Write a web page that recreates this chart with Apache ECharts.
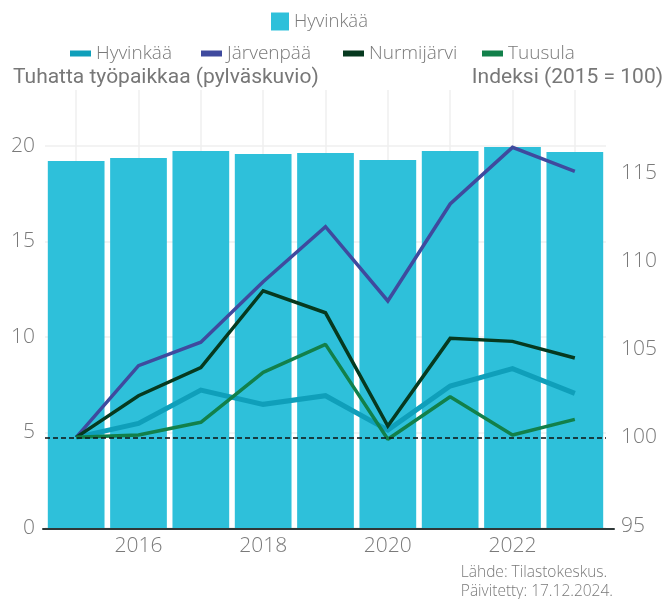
<!DOCTYPE html>
<html>
<head>
<meta charset="utf-8">
<script src="https://cdn.jsdelivr.net/npm/echarts@6/dist/echarts.min.js"></script>
<style>
  html, body { margin: 0; padding: 0; background: #fff; }
  #chart { width: 668px; height: 599px; }
</style>
</head>
<body>
<div id="chart"></div>
<script>
var years = ['2015', '2016', '2017', '2018', '2019', '2020', '2021', '2022', '2023'];
// Hyvinkää, tuhatta työpaikkaa (pylväät)
var hyvJobs = [19.21, 19.37, 19.74, 19.58, 19.63, 19.27, 19.74, 19.95, 19.69];
// indeksit 2015 = 100
var hyvIdx = [100, 100.79, 102.68, 101.87, 102.36, 100.41, 102.91, 103.89, 102.49];
var jarIdx = [100, 104.06, 105.39, 108.82, 111.94, 107.73, 113.23, 116.44, 115.08];
var nurIdx = [100, 102.36, 103.95, 108.31, 107.06, 100.64, 105.61, 105.44, 104.50];
var tuuIdx = [100, 100.13, 100.85, 103.68, 105.27, 99.89, 102.30, 100.13, 101.02];
var leftTicks = [0, 5, 10, 15, 20];
var rightTicks = [95, 100, 105, 110, 115];
var lineNames = ['Hyvinkää (indeksi)', 'Järvenpää', 'Nurmijärvi', 'Tuusula'];

var chart = echarts.init(document.getElementById('chart'));
var grey = '#7a7a7a';
var narrow = "'Liberation Sans Narrow', 'Roboto', sans-serif";
var tickFont = "'Open Sans', Lato, sans-serif";

function lineSeries (name, data, color, width) {
  return {
    name: name,
    type: 'line',
    xAxisIndex: 0,
    yAxisIndex: 1,
    data: data,
    symbol: 'none',
    z: 3,
    itemStyle: { color: color },
    lineStyle: { color: color, width: width, join: 'miter' }
  };
}

// jokaiselle viivalle oma selite, jotta kohdat osuvat
var legendLefts = [70, 201, 343, 482];
var lineLegends = lineNames.map(function (n, i) {
  return {
    data: [n],
    left: legendLefts[i], top: 44,
    padding: 0,
    icon: 'rect',
    itemWidth: 21, itemHeight: 6,
    itemGap: 9,
    formatter: function (s) { return s.replace(' (indeksi)', ''); },
    textStyle: { color: grey, fontSize: 19, fontWeight: 300, fontFamily: tickFont }
  };
});

var option = {
  animation: false,
  title: [
    {
      text: 'Tuhatta työpaikkaa (pylväskuvio)',
      left: 8, top: 62,
      textStyle: { color: '#777', fontSize: 21, fontWeight: 'normal', fontFamily: narrow }
    },
    {
      text: 'Indeksi (2015 = 100)',
      right: 0, top: 62,
      textStyle: { color: '#777', fontSize: 21, fontWeight: 'normal', fontFamily: narrow }
    }
  ],
  graphic: [
    {
      type: 'text',
      right: 55,
      top: 563,
      style: {
        text: 'Lähde: Tilastokeskus.\nPäivitetty: 17.12.2024.',
        align: 'right',
        fill: grey,
        fontSize: 15.5,
        fontWeight: 300,
        fontFamily: tickFont,
        lineHeight: 19
      }
    }
  ],
  legend: [
    {
      data: ['Hyvinkää'],
      left: 271, top: 12,
      padding: 0,
      icon: 'rect',
      itemWidth: 18, itemHeight: 18,
      itemGap: 10,
      textStyle: { color: grey, fontSize: 18.5, fontWeight: 300, fontFamily: tickFont }
    }
  ].concat(lineLegends),
  grid: [
    { left: 45, right: 62, top: 90, bottom: 71 },
    { left: 43, right: 54, top: 90, bottom: 70 }
  ],
  xAxis: [
    {
      type: 'category',
      data: years,
      gridIndex: 0,
      boundaryGap: true,
      axisLine: { show: false },
      axisTick: { show: false },
      axisLabel: {
        interval: 0,
        color: grey,
        fontSize: 21,
        fontWeight: 300,
        fontFamily: tickFont,
        margin: 8,
        formatter: function (v) { return Number(v) % 2 === 0 ? v : ''; }
      },
      splitLine: {
        show: true,
        interval: 0,
        alignWithLabel: true,
        lineStyle: { color: '#efefef', width: 1.5 }
      }
    },
    {
      type: 'value',
      gridIndex: 1,
      min: 0, max: 1,
      axisLine: { show: true, onZero: false, lineStyle: { color: '#2f3838', width: 2 } },
      axisTick: { show: false },
      axisLabel: { show: false },
      splitLine: { show: false }
    }
  ],
  yAxis: [
    {
      type: 'value',
      gridIndex: 0,
      min: 0, max: 22.93, interval: 5,
      axisLine: { show: false },
      axisTick: { show: false },
      axisLabel: {
        color: grey, fontSize: 21, fontWeight: 300, fontFamily: tickFont, margin: 10,
        customValues: leftTicks
      },
      splitLine: {
        show: true,
        showMaxLine: false,
        lineStyle: { color: '#efefef', width: 1.5 }
      }
    },
    {
      type: 'value',
      gridIndex: 0,
      position: 'right',
      min: 94.86, max: 119.69,
      axisLine: { show: false },
      axisTick: { show: false },
      axisLabel: {
        color: grey, fontSize: 21, fontWeight: 300, fontFamily: tickFont, margin: 15,
        customValues: rightTicks
      },
      splitLine: { show: false }
    },
    {
      type: 'value',
      gridIndex: 1,
      show: false,
      min: 0, max: 1
    }
  ],
  series: [
    {
      name: 'Hyvinkää',
      type: 'bar',
      xAxisIndex: 0,
      yAxisIndex: 0,
      data: hyvJobs,
      barWidth: '91%',
      itemStyle: { color: '#2ec0da' },
      z: 2
    },
    lineSeries(lineNames[0], hyvIdx, '#0f9fba', 5),
    lineSeries(lineNames[1], jarIdx, '#3f4a9e', 3.5),
    lineSeries(lineNames[2], nurIdx, '#06391f', 3.5),
    {
      name: lineNames[3],
      type: 'line',
      xAxisIndex: 0,
      yAxisIndex: 1,
      data: tuuIdx,
      symbol: 'none',
      z: 3,
      itemStyle: { color: '#12804a' },
      lineStyle: { color: '#12804a', width: 3.5 },
      markLine: {
        silent: true,
        symbol: 'none',
        label: { show: false },
        lineStyle: { color: '#111', type: [5, 3], width: 1.5 },
        data: [{ yAxis: 100 }],
        z: 4
      }
    }
  ]
};
chart.setOption(option);
</script>
</body>
</html>
